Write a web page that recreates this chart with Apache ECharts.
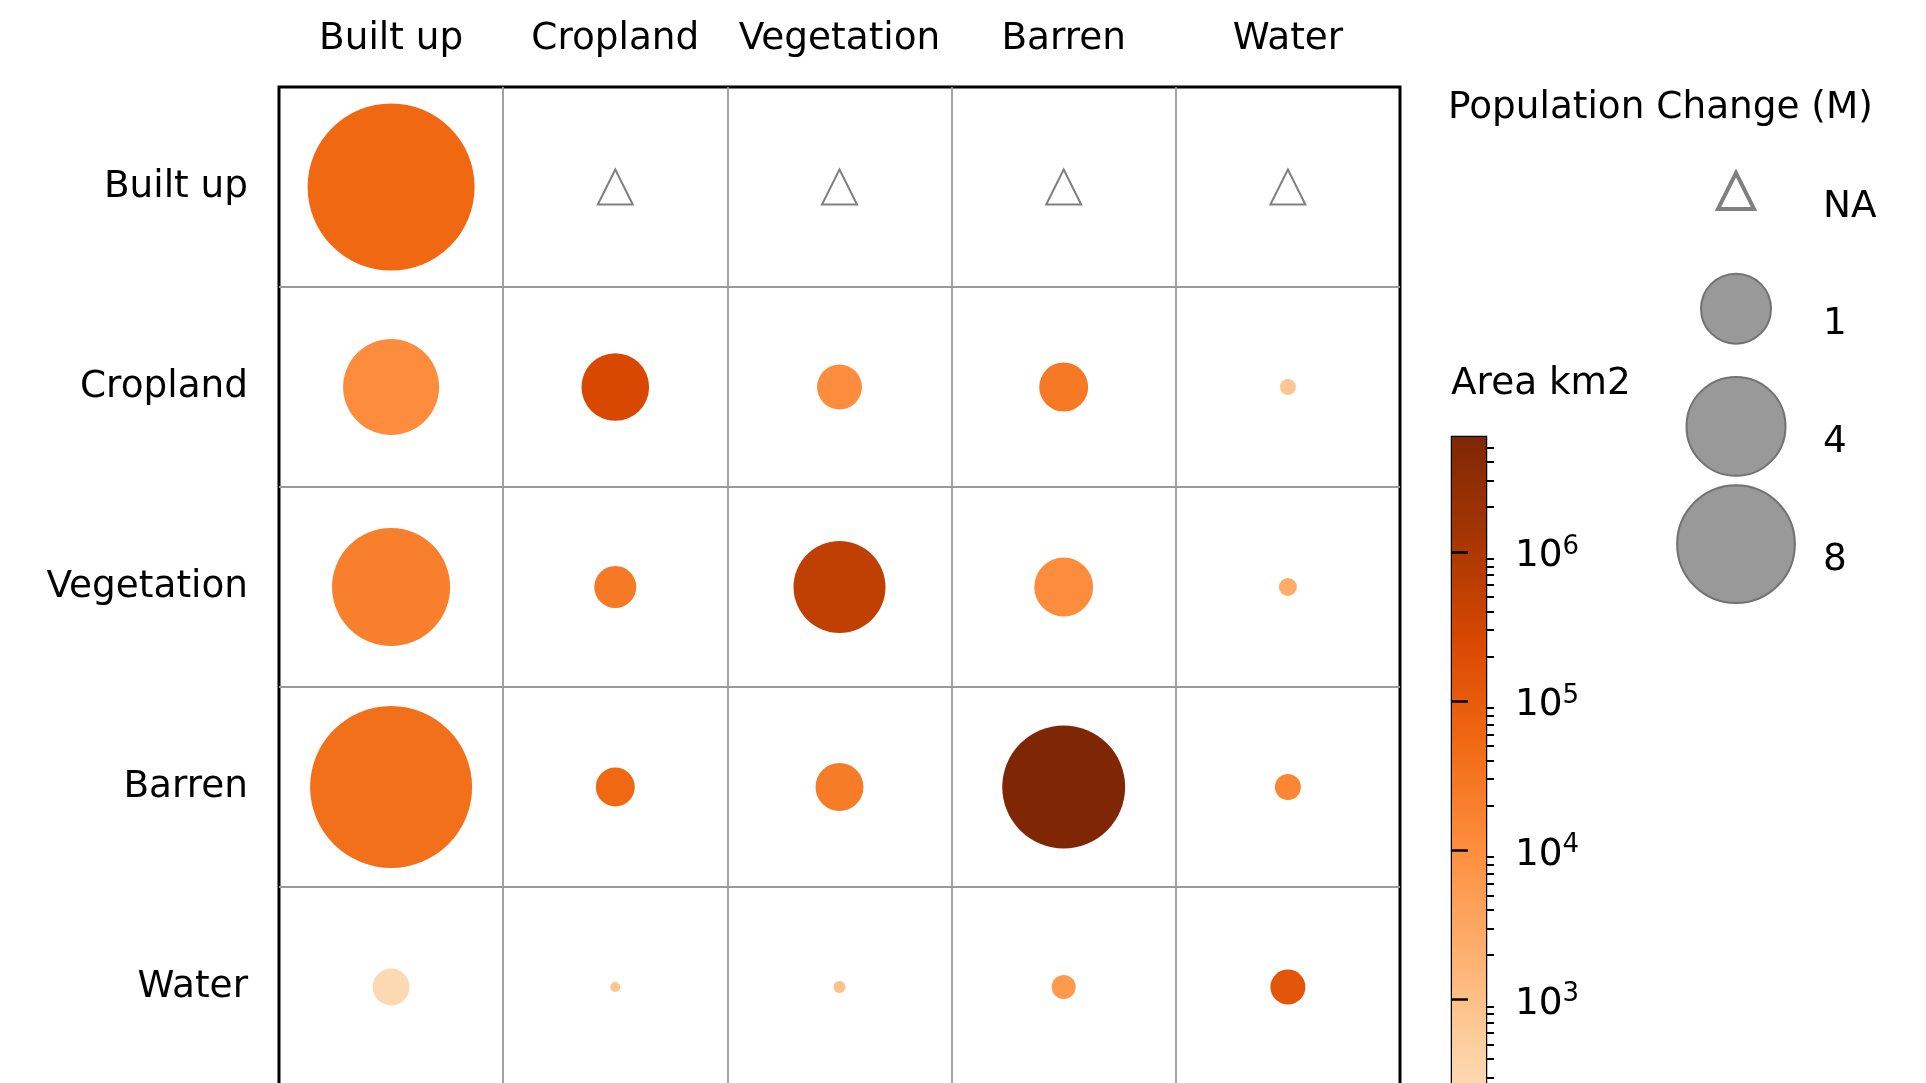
<!DOCTYPE html>
<html>
<head>
<meta charset="utf-8">
<script src="https://cdn.jsdelivr.net/npm/echarts@6/dist/echarts.min.js"></script>
<style>
html, body { margin: 0; padding: 0; background: #fff; overflow: hidden; }
#chart { width: 1926px; height: 1083px; overflow: hidden; }
</style>
</head>
<body>
<div id="chart"></div>
<script>
// land cover classes, rows = from, columns = to
var landTypes = ['Built up', 'Cropland', 'Vegetation', 'Barren', 'Water']

// converted area in km2 (null = no data, drawn as triangle)
var areaKm2 = [
  [56000, null, null, null, null],
  [11000, 257000, 11000, 26000, 780],
  [20000, 26000, 540000, 11000, 2400],
  [39000, 56000, 23000, 5900000, 14000],
  [250, 780, 900, 5900, 135000]
]

// population change in millions
var popChangeM = [
  [32.4, null, null, null, null],
  [3.54, 0.87, 0.17, 0.24, 0.0027],
  [8.1, 0.13, 2.98, 0.5, 0.0044],
  [28.7, 0.096, 0.22, 9.5, 0.019],
  [0.078, 0.0004, 0.00086, 0.0138, 0.0625]
]

// size legend
var sizeLegendLabels = ['NA', '1', '4', '8']
var sizeLegendValues = [null, 1, 4, 8]

// colour bar (log10 of km2)
var areaMin = 20
var areaMax = 5900000
var cbMajorExp = [2, 3, 4, 5, 6]
var oranges = ['#fff5eb', '#fee6ce', '#fdd0a2', '#fdae6b', '#fd8d3c', '#f16913', '#d94801', '#a63603', '#7f2704']

var FONT = 'DejaVu Sans'
var FS = 37.4
var logMin = Math.log10(areaMin)
var logMax = Math.log10(areaMax)

function popSize (p) {
  return 70 * Math.pow(p, 0.25)
}

var bubbleData = []
var naData = []
for (var r = 0; r < landTypes.length; r++) {
  for (var c = 0; c < landTypes.length; c++) {
    if (areaKm2[r][c] == null) {
      naData.push([c, r])
    } else {
      bubbleData.push([c, r, areaKm2[r][c], popChangeM[r][c], Math.log10(areaKm2[r][c])])
    }
  }
}

var minorVals = []
for (var e = 1; e <= 6; e++) {
  for (var k = 2; k <= 9; k++) {
    var lv = Math.log10(k * Math.pow(10, e))
    if (lv > logMin && lv < logMax) minorVals.push(lv)
  }
}

var legendData = sizeLegendValues.map(function (v, i) {
  if (v == null) {
    return {
      value: [0, i, 0],
      symbol: 'triangle',
      symbolSize: 36,
      itemStyle: { color: 'rgba(0,0,0,0)', borderColor: '#808080', borderWidth: 4, opacity: 1 }
    }
  }
  return {
    value: [0, i, v],
    symbol: 'circle',
    symbolSize: popSize(v),
    itemStyle: { color: '#999999', borderColor: '#727272', borderWidth: 2, opacity: 1 }
  }
})

var gradStops = oranges.map(function (col, i) {
  return { offset: i / (oranges.length - 1), color: col }
})

// the figure continues below the window, so the canvas is taller than the view
var chart = echarts.init(document.getElementById('chart'), null, { width: 1926, height: 1300 })
chart.setOption({
  backgroundColor: '#fff',
  animation: false,
  textStyle: { fontFamily: FONT },
  title: [
    {
      text: 'Population Change (M)',
      left: 1448,
      top: 90,
      padding: 0,
      textStyle: { fontFamily: FONT, fontSize: FS, fontWeight: 'normal', color: '#000' }
    },
    {
      text: 'Area km2',
      left: 1451,
      top: 366,
      padding: 0,
      textStyle: { fontFamily: FONT, fontSize: FS, fontWeight: 'normal', color: '#000' }
    }
  ],
  visualMap: {
    show: false,
    type: 'continuous',
    seriesIndex: 0,
    dimension: 4,
    min: logMin,
    max: logMax,
    inRange: { color: oranges }
  },
  grid: [
    { left: 279, top: 87, width: 1121, height: 1000, show: true, borderColor: '#000', borderWidth: 3, backgroundColor: 'rgba(0,0,0,0)' },
    { left: 1452, top: 437, width: 34, height: 816, show: true, borderColor: '#000', borderWidth: 2.5, backgroundColor: 'rgba(0,0,0,0)' },
    { left: 1696, top: 132, width: 80, height: 471 }
  ],
  xAxis: [
    {
      gridIndex: 0,
      type: 'category',
      position: 'top',
      data: landTypes,
      axisLine: { show: false },
      axisTick: { show: false },
      axisLabel: { fontFamily: FONT, fontSize: FS, color: '#000', margin: 29, interval: 0 },
      splitLine: { show: true, interval: 0, showMinLine: false, showMaxLine: false, lineStyle: { color: '#999999', width: 1.8 } }
    },
    { gridIndex: 1, type: 'value', min: 0, max: 1, show: false },
    { gridIndex: 2, type: 'value', min: -1, max: 1, show: false }
  ],
  yAxis: [
    {
      gridIndex: 0,
      type: 'category',
      inverse: true,
      data: landTypes,
      axisLine: { show: false },
      axisTick: { show: false },
      axisLabel: { fontFamily: FONT, fontSize: FS, color: '#000', margin: 31, interval: 0, padding: [4, 0, 0, 0] },
      splitLine: { show: true, interval: 0, showMinLine: false, showMaxLine: false, lineStyle: { color: '#999999', width: 1.8 } }
    },
    {
      gridIndex: 1,
      type: 'value',
      min: logMin,
      max: logMax,
      position: 'right',
      axisLine: { show: false },
      splitLine: { show: false },
      axisTick: { show: true, customValues: cbMajorExp, length: 16, lineStyle: { color: '#000', width: 2.5 } },
      axisLabel: {
        customValues: cbMajorExp,
        margin: 29,
        padding: [6, 0, 0, 0],
        formatter: function (v) { return '{b|10}{s|' + Math.round(v) + '}' },
        rich: {
          b: { fontFamily: FONT, fontSize: FS, lineHeight: 40, color: '#000', verticalAlign: 'bottom' },
          s: { fontFamily: FONT, fontSize: 26, lineHeight: 26, color: '#000', verticalAlign: 'bottom', padding: [0, 0, 15, 0] }
        }
      }
    },
    {
      gridIndex: 1,
      type: 'value',
      min: logMin,
      max: logMax,
      position: 'right',
      axisLine: { show: false },
      splitLine: { show: false },
      axisTick: { show: true, customValues: minorVals, length: 8, lineStyle: { color: '#000', width: 2 } },
      axisLabel: { show: false }
    },
    {
      gridIndex: 2,
      type: 'category',
      inverse: true,
      position: 'right',
      data: sizeLegendLabels,
      axisLine: { show: false },
      axisTick: { show: false },
      splitLine: { show: false },
      axisLabel: { fontFamily: FONT, fontSize: FS, color: '#000', margin: 47, align: 'left', verticalAlign: 'top', lineHeight: 32 }
    }
  ],
  series: [
    {
      name: 'Area',
      type: 'scatter',
      xAxisIndex: 0,
      yAxisIndex: 0,
      data: bubbleData,
      symbol: 'circle',
      symbolSize: function (v) { return popSize(v[3]) },
      itemStyle: { opacity: 1, borderWidth: 0 }
    },
    {
      name: 'NA',
      type: 'scatter',
      xAxisIndex: 0,
      yAxisIndex: 0,
      data: naData,
      symbol: 'triangle',
      symbolSize: 35,
      itemStyle: { color: 'rgba(0,0,0,0)', borderColor: '#808080', borderWidth: 2, opacity: 1 }
    },
    {
      name: 'colorbar',
      type: 'custom',
      xAxisIndex: 1,
      yAxisIndex: 1,
      data: [[0, logMin, 1, logMax]],
      renderItem: function (params, api) {
        var p0 = api.coord([api.value(0), api.value(1)])
        var p1 = api.coord([api.value(2), api.value(3)])
        return {
          type: 'rect',
          shape: { x: p0[0], y: p1[1], width: p1[0] - p0[0], height: p0[1] - p1[1] },
          style: { fill: new echarts.graphic.LinearGradient(0, 1, 0, 0, gradStops) },
          z2: -1
        }
      },
      z: 0
    },
    {
      name: 'sizeLegend',
      type: 'scatter',
      xAxisIndex: 2,
      yAxisIndex: 3,
      data: legendData
    }
  ]
})
</script>
</body>
</html>
